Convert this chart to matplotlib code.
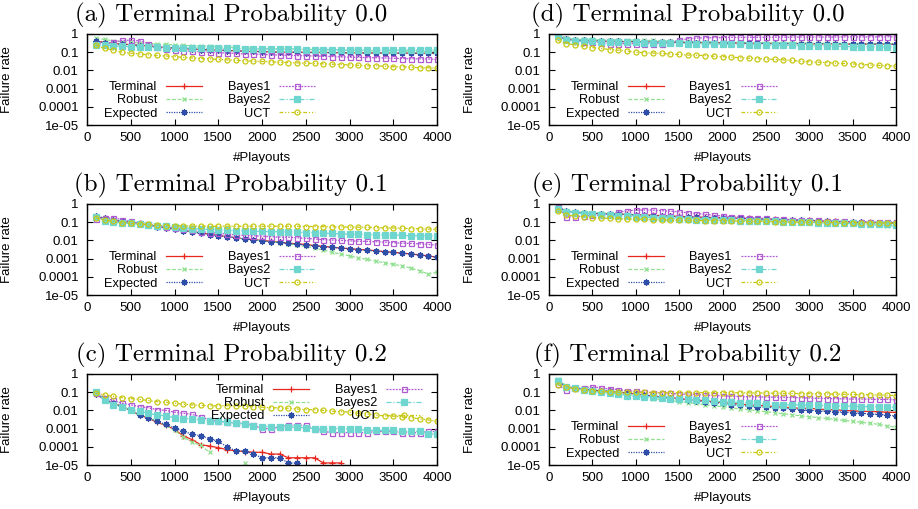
import numpy as np
import matplotlib
matplotlib.use('Agg')
import matplotlib.pyplot as plt

N = np.nan
playouts = list(range(100, 4100, 100))

series_names = ['Terminal', 'Robust', 'Expected', 'Bayes1', 'Bayes2', 'UCT']
titles = ['(a) Terminal Probability 0.0', '(b) Terminal Probability 0.1',
          '(c) Terminal Probability 0.2', '(d) Terminal Probability 0.0',
          '(e) Terminal Probability 0.1', '(f) Terminal Probability 0.2']
ytick_vals = [1, 0.1, 0.01, 0.001, 0.0001, 0.00001]
ytick_labels = ['1', '0.1', '0.01', '0.001', '0.0001', '1e-05']
xtick_vals = [0, 500, 1000, 1500, 2000, 2500, 3000, 3500, 4000]

# (a)
a_terminal = [0.4, 0.35, 0.3, 0.28, 0.26, 0.24, 0.22, 0.2, 0.18, 0.17,
              0.16, 0.15, 0.14, 0.135, 0.13, 0.125, 0.12, 0.115, 0.11, 0.11,
              0.105, 0.1, 0.1, 0.1, 0.1, 0.098, 0.097, 0.095, 0.094, 0.093,
              0.092, 0.092, 0.091, 0.09, 0.09, 0.09, 0.089, 0.088, 0.088, 0.088]
a_robust = [0.6, 0.5, 0.42, 0.38, 0.35, 0.32, 0.3, 0.28, 0.27, 0.25,
            0.24, 0.23, 0.22, 0.21, 0.2, 0.19, 0.18, 0.17, 0.17, 0.16,
            0.16, 0.15, 0.15, 0.15, 0.14, 0.14, 0.14, 0.13, 0.13, 0.13,
            0.13, 0.12, 0.12, 0.12, 0.12, 0.12, 0.11, 0.11, 0.11, 0.11]
a_expected = [0.4, 0.34, 0.3, 0.27, 0.25, 0.23, 0.21, 0.19, 0.18, 0.17,
              0.16, 0.15, 0.14, 0.13, 0.13, 0.12, 0.12, 0.11, 0.11, 0.105,
              0.1, 0.1, 0.1, 0.098, 0.096, 0.095, 0.094, 0.093, 0.092, 0.09,
              0.09, 0.09, 0.089, 0.088, 0.088, 0.087, 0.087, 0.086, 0.086, 0.085]
a_bayes1 = [0.3, 0.3, 0.35, 0.45, 0.45, 0.42, 0.3, 0.2, 0.15, 0.13,
            0.12, 0.11, 0.105, 0.1, 0.095, 0.09, 0.085, 0.08, 0.08, 0.075,
            0.072, 0.07, 0.068, 0.065, 0.063, 0.062, 0.06, 0.058, 0.055, 0.053,
            0.052, 0.05, 0.05, 0.048, 0.046, 0.045, 0.044, 0.043, 0.042, 0.04]
a_bayes2 = [0.25, 0.25, 0.22, 0.21, 0.2, 0.2, 0.19, 0.19, 0.18, 0.18,
            0.17, 0.17, 0.17, 0.16, 0.16, 0.16, 0.16, 0.15, 0.15, 0.15,
            0.15, 0.15, 0.15, 0.15, 0.14, 0.14, 0.14, 0.14, 0.13, 0.13,
            0.13, 0.13, 0.13, 0.13, 0.13, 0.13, 0.13, 0.13, 0.13, 0.13]
a_uct = [0.25, 0.16, 0.13, 0.1, 0.088, 0.08, 0.072, 0.066, 0.062, 0.057,
         0.052, 0.048, 0.045, 0.043, 0.04, 0.038, 0.036, 0.034, 0.032, 0.031,
         0.03, 0.028, 0.027, 0.026, 0.025, 0.024, 0.023, 0.022, 0.021, 0.02,
         0.019, 0.018, 0.018, 0.017, 0.016, 0.016, 0.015, 0.014, 0.014, 0.013]

# (b)
b_terminal = [0.2, 0.16, 0.13, 0.11, 0.1, 0.085, 0.07, 0.06, 0.05, 0.042,
              0.035, 0.03, 0.026, 0.022, 0.019, 0.016, 0.014, 0.012, 0.011, 0.01,
              0.009, 0.008, 0.007, 0.0065, 0.006, 0.0052, 0.0047, 0.0042, 0.0038, 0.0035,
              0.0032, 0.003, 0.0027, 0.0024, 0.0022, 0.002, 0.0018, 0.0016, 0.0014, 0.0012]
b_robust = [0.2, 0.16, 0.13, 0.11, 0.095, 0.08, 0.068, 0.058, 0.048, 0.04,
            0.034, 0.029, 0.025, 0.021, 0.018, 0.016, 0.014, 0.012, 0.011, 0.0095,
            0.0085, 0.0075, 0.0065, 0.0055, 0.0047, 0.0038, 0.003, 0.0022, 0.0018, 0.0014,
            0.0011, 0.0009, 0.00072, 0.0006, 0.00048, 0.0004, 0.0003, 0.00022, 0.00014, 0.00018]
b_expected = [0.22, 0.17, 0.13, 0.11, 0.095, 0.08, 0.07, 0.058, 0.048, 0.04,
              0.034, 0.029, 0.025, 0.021, 0.018, 0.016, 0.014, 0.012, 0.011, 0.0095,
              0.0085, 0.0077, 0.0068, 0.0062, 0.0056, 0.005, 0.0046, 0.0042, 0.0038, 0.0035,
              0.0031, 0.0029, 0.0026, 0.0024, 0.0022, 0.002, 0.0018, 0.0016, 0.0014, 0.0012]
b_bayes1 = [0.15, 0.17, 0.17, 0.14, 0.11, 0.09, 0.075, 0.065, 0.055, 0.048,
            0.04, 0.035, 0.03, 0.027, 0.025, 0.022, 0.02, 0.019, 0.018, 0.017,
            0.016, 0.015, 0.015, 0.014, 0.013, 0.012, 0.011, 0.0105, 0.01, 0.0095,
            0.009, 0.0088, 0.0085, 0.008, 0.0075, 0.007, 0.0068, 0.0065, 0.006, 0.0055]
b_bayes2 = [0.2, 0.12, 0.1, 0.09, 0.085, 0.08, 0.07, 0.065, 0.06, 0.055,
            0.05, 0.045, 0.042, 0.04, 0.038, 0.036, 0.034, 0.033, 0.032, 0.031,
            0.03, 0.03, 0.029, 0.028, 0.027, 0.026, 0.025, 0.024, 0.023, 0.022,
            0.022, 0.021, 0.02, 0.02, 0.02, 0.019, 0.018, 0.018, 0.018, 0.018]
b_uct = [0.17, 0.13, 0.11, 0.09, 0.085, 0.08, 0.075, 0.07, 0.065, 0.063,
         0.062, 0.062, 0.062, 0.06, 0.06, 0.06, 0.06, 0.06, 0.06, 0.06,
         0.06, 0.06, 0.06, 0.06, 0.058, 0.058, 0.057, 0.056, 0.055, 0.054,
         0.053, 0.052, 0.05, 0.049, 0.048, 0.046, 0.045, 0.043, 0.042, 0.04]

# (c)
c_terminal = [0.08, 0.04, 0.025, 0.017, 0.01, 0.0055, 0.0038, 0.0022, 0.0015, 0.0009,
              0.0004, 0.00025, 0.00013, 0.00011, 0.00009, 0.00007, 0.00006, 0.000055, 0.00005, 0.00005,
              0.00004, 0.00004, 0.000025, 0.000025, 0.000025, 0.000025, 0.000013, 0.000013, 0.000013, N,
              N, N, N, N, N, N, N, N, N, N]
c_robust = [0.1, 0.04, 0.025, 0.016, 0.01, 0.006, 0.004, 0.0025, 0.0015, 0.0008,
            0.00035, 0.00018, 0.00012, 0.00005, N, N, N, 0.000013, N, N,
            N, N, N, N, N, N, N, N, N, N,
            N, N, N, N, N, N, N, N, N, N]
c_expected = [0.08, 0.04, 0.025, 0.015, 0.01, 0.0055, 0.0038, 0.0025, 0.0017, 0.0011,
              0.0007, 0.0005, 0.0004, 0.00028, 0.0002, 0.0001, 0.00006, 0.00006, 0.00004, 0.000025,
              0.000025, 0.000025, 0.000013, 0.000013, N, N, N, N, N, N,
              N, N, N, N, N, N, N, N, N, N]
c_bayes1 = [0.09, 0.05, 0.035, 0.025, 0.02, 0.016, 0.014, 0.011, 0.01, 0.008,
            0.007, 0.006, 0.0045, 0.003, 0.0025, 0.0023, 0.002, 0.002, 0.0015, 0.001,
            0.001, 0.0012, 0.0016, 0.0015, 0.0015, 0.001, 0.0007, 0.0006, 0.0006, 0.0006,
            0.0006, 0.0006, 0.0007, 0.0007, 0.0007, 0.0006, 0.0006, 0.0006, 0.0007, 0.0007]
c_bayes2 = [0.1, 0.035, 0.02, 0.015, 0.011, 0.009, 0.007, 0.0055, 0.005, 0.004,
            0.0035, 0.0035, 0.003, 0.0025, 0.0025, 0.0023, 0.002, 0.0018, 0.0014, 0.0013,
            0.0013, 0.0012, 0.0012, 0.0012, 0.0011, 0.001, 0.001, 0.001, 0.001, 0.001,
            0.0009, 0.0008, 0.0008, 0.0008, 0.0008, 0.0007, 0.0007, 0.0007, 0.0005, 0.0005]
c_uct = [0.09, 0.07, 0.06, 0.05, 0.045, 0.04, 0.035, 0.03, 0.028, 0.025,
         0.022, 0.02, 0.019, 0.018, 0.018, 0.018, 0.017, 0.017, 0.016, 0.015,
         0.014, 0.014, 0.013, 0.012, 0.011, 0.011, 0.01, 0.009, 0.0085, 0.008,
         0.007, 0.0065, 0.0055, 0.005, 0.0048, 0.0045, 0.004, 0.0035, 0.003, 0.0025]

# (d)
d_terminal = [0.8, 0.5, 0.45, 0.43, 0.42, 0.4, 0.4, 0.39, 0.38, 0.38,
              0.37, 0.36, 0.36, 0.35, 0.35, 0.34, 0.34, 0.33, 0.33, 0.33,
              0.32, 0.32, 0.31, 0.31, 0.31, 0.3, 0.3, 0.3, 0.3, 0.29,
              0.29, 0.29, 0.29, 0.28, 0.28, 0.28, 0.28, 0.28, 0.27, 0.27]
d_robust = [0.9, 0.6, 0.52, 0.5, 0.5, 0.48, 0.47, 0.47, 0.46, 0.46,
            0.45, 0.44, 0.42, 0.41, 0.4, 0.39, 0.38, 0.37, 0.37, 0.36,
            0.35, 0.35, 0.34, 0.34, 0.33, 0.33, 0.33, 0.32, 0.32, 0.32,
            0.31, 0.31, 0.31, 0.3, 0.3, 0.3, 0.3, 0.3, 0.3, 0.29]
d_expected = [0.8, 0.5, 0.46, 0.44, 0.42, 0.41, 0.4, 0.39, 0.38, 0.38,
              0.37, 0.36, 0.35, 0.35, 0.35, 0.34, 0.34, 0.33, 0.33, 0.32,
              0.32, 0.32, 0.31, 0.31, 0.3, 0.3, 0.3, 0.3, 0.3, 0.29,
              0.29, 0.29, 0.29, 0.29, 0.28, 0.28, 0.28, 0.28, 0.28, 0.28]
d_bayes1 = [0.8, 0.5, 0.42, 0.38, 0.36, 0.33, 0.3, 0.3, 0.3, 0.3,
            0.3, 0.3, 0.3, 0.35, 0.45, 0.55, 0.6, 0.62, 0.63, 0.64,
            0.65, 0.65, 0.66, 0.66, 0.66, 0.67, 0.67, 0.67, 0.68, 0.68,
            0.68, 0.68, 0.68, 0.69, 0.69, 0.69, 0.69, 0.7, 0.7, 0.7]
d_bayes2 = [0.8, 0.45, 0.42, 0.4, 0.4, 0.38, 0.37, 0.36, 0.35, 0.35,
            0.34, 0.33, 0.33, 0.32, 0.31, 0.3, 0.3, 0.29, 0.28, 0.28,
            0.27, 0.27, 0.26, 0.26, 0.25, 0.25, 0.24, 0.24, 0.23, 0.23,
            0.22, 0.22, 0.21, 0.21, 0.2, 0.2, 0.2, 0.19, 0.19, 0.18]
d_uct = [0.45, 0.3, 0.25, 0.21, 0.18, 0.16, 0.14, 0.13, 0.115, 0.1,
         0.095, 0.09, 0.085, 0.08, 0.075, 0.07, 0.068, 0.065, 0.06, 0.057,
         0.053, 0.05, 0.047, 0.045, 0.042, 0.04, 0.038, 0.035, 0.032, 0.03,
         0.028, 0.027, 0.025, 0.024, 0.023, 0.021, 0.02, 0.019, 0.018, 0.017]

# (e)
e_terminal = [0.7, 0.4, 0.36, 0.33, 0.31, 0.3, 0.29, 0.28, 0.27, 0.26,
              0.25, 0.24, 0.23, 0.22, 0.21, 0.2, 0.19, 0.185, 0.18, 0.175,
              0.17, 0.165, 0.16, 0.155, 0.15, 0.145, 0.14, 0.135, 0.13, 0.125,
              0.12, 0.115, 0.11, 0.108, 0.105, 0.1, 0.098, 0.095, 0.092, 0.09]
e_robust = [0.5, 0.4, 0.37, 0.35, 0.34, 0.32, 0.3, 0.28, 0.26, 0.25,
            0.23, 0.21, 0.2, 0.19, 0.18, 0.17, 0.16, 0.155, 0.15, 0.14,
            0.135, 0.13, 0.125, 0.12, 0.12, 0.115, 0.11, 0.105, 0.1, 0.1,
            0.095, 0.09, 0.088, 0.085, 0.08, 0.077, 0.073, 0.07, 0.065, 0.06]
e_expected = [0.7, 0.42, 0.36, 0.32, 0.3, 0.29, 0.28, 0.27, 0.26, 0.25,
              0.24, 0.23, 0.22, 0.21, 0.2, 0.19, 0.185, 0.18, 0.175, 0.17,
              0.165, 0.16, 0.155, 0.15, 0.145, 0.14, 0.135, 0.13, 0.125, 0.12,
              0.115, 0.11, 0.108, 0.105, 0.1, 0.098, 0.095, 0.092, 0.09, 0.088]
e_bayes1 = [0.7, 0.2, 0.2, 0.22, 0.24, 0.25, 0.28, 0.35, 0.42, 0.46,
            0.47, 0.46, 0.43, 0.4, 0.37, 0.33, 0.3, 0.27, 0.24, 0.22,
            0.2, 0.19, 0.18, 0.17, 0.16, 0.15, 0.145, 0.14, 0.135, 0.13,
            0.125, 0.12, 0.115, 0.11, 0.108, 0.105, 0.103, 0.1, 0.1, 0.1]
e_bayes2 = [0.5, 0.38, 0.33, 0.3, 0.28, 0.26, 0.24, 0.22, 0.21, 0.2,
            0.19, 0.18, 0.17, 0.16, 0.155, 0.15, 0.14, 0.135, 0.13, 0.13,
            0.125, 0.12, 0.12, 0.115, 0.11, 0.11, 0.105, 0.1, 0.1, 0.097,
            0.095, 0.092, 0.09, 0.088, 0.085, 0.082, 0.08, 0.078, 0.075, 0.072]
e_uct = [0.4, 0.25, 0.22, 0.2, 0.18, 0.17, 0.16, 0.155, 0.15, 0.15,
         0.145, 0.14, 0.135, 0.13, 0.13, 0.125, 0.125, 0.12, 0.12, 0.12,
         0.115, 0.115, 0.11, 0.11, 0.11, 0.105, 0.105, 0.1, 0.1, 0.1,
         0.1, 0.098, 0.096, 0.095, 0.094, 0.093, 0.092, 0.091, 0.09, 0.09]

# (f)
f_terminal = [0.4, 0.2, 0.17, 0.15, 0.13, 0.12, 0.11, 0.1, 0.09, 0.08,
              0.07, 0.062, 0.055, 0.05, 0.045, 0.04, 0.037, 0.034, 0.03, 0.027,
              0.025, 0.022, 0.02, 0.019, 0.018, 0.016, 0.015, 0.014, 0.013, 0.013,
              0.012, 0.011, 0.011, 0.01, 0.0095, 0.009, 0.0088, 0.0085, 0.008, 0.0078]
f_robust = [0.5, 0.22, 0.16, 0.14, 0.12, 0.1, 0.09, 0.08, 0.07, 0.06,
            0.052, 0.045, 0.04, 0.035, 0.03, 0.027, 0.024, 0.02, 0.018, 0.016,
            0.014, 0.012, 0.011, 0.0095, 0.0085, 0.0075, 0.0065, 0.0058, 0.005, 0.0045,
            0.004, 0.0036, 0.0032, 0.0028, 0.0025, 0.0022, 0.002, 0.0017, 0.0014, 0.0012]
f_expected = [0.4, 0.2, 0.17, 0.15, 0.13, 0.12, 0.11, 0.1, 0.09, 0.08,
              0.07, 0.06, 0.053, 0.047, 0.042, 0.037, 0.033, 0.03, 0.027, 0.024,
              0.021, 0.019, 0.017, 0.016, 0.015, 0.014, 0.013, 0.012, 0.011, 0.01,
              0.0095, 0.009, 0.0085, 0.008, 0.0075, 0.007, 0.0065, 0.006, 0.0055, 0.005]
f_bayes1 = [0.3, 0.14, 0.16, 0.17, 0.2, 0.17, 0.15, 0.14, 0.12, 0.11,
            0.1, 0.095, 0.09, 0.085, 0.08, 0.077, 0.073, 0.07, 0.066, 0.063,
            0.06, 0.058, 0.056, 0.055, 0.054, 0.053, 0.052, 0.051, 0.05, 0.048,
            0.046, 0.045, 0.044, 0.043, 0.042, 0.042, 0.041, 0.04, 0.04, 0.038]
f_bayes2 = [0.4, 0.2, 0.16, 0.13, 0.11, 0.1, 0.09, 0.08, 0.065, 0.06,
            0.058, 0.055, 0.05, 0.045, 0.042, 0.04, 0.038, 0.035, 0.033, 0.03,
            0.028, 0.027, 0.025, 0.024, 0.022, 0.021, 0.02, 0.02, 0.02, 0.019,
            0.019, 0.018, 0.018, 0.017, 0.017, 0.016, 0.016, 0.016, 0.015, 0.015]
f_uct = [0.25, 0.2, 0.15, 0.13, 0.12, 0.11, 0.105, 0.1, 0.1, 0.098,
         0.097, 0.096, 0.095, 0.095, 0.095, 0.095, 0.095, 0.095, 0.095, 0.095,
         0.094, 0.093, 0.092, 0.091, 0.09, 0.088, 0.086, 0.085, 0.084, 0.083,
         0.082, 0.08, 0.078, 0.077, 0.075, 0.073, 0.072, 0.07, 0.068, 0.065]

panel_data = [
    [a_terminal, a_robust, a_expected, a_bayes1, a_bayes2, a_uct],
    [b_terminal, b_robust, b_expected, b_bayes1, b_bayes2, b_uct],
    [c_terminal, c_robust, c_expected, c_bayes1, c_bayes2, c_uct],
    [d_terminal, d_robust, d_expected, d_bayes1, d_bayes2, d_uct],
    [e_terminal, e_robust, e_expected, e_bayes1, e_bayes2, e_uct],
    [f_terminal, f_robust, f_expected, f_bayes1, f_bayes2, f_uct],
]

# gnuplot-like line styles: (color, dashes, marker, marker size, filled)
styles = [
    ('#e8281e', None, '+', 4.5, True),
    ('#90e090', (3, 1.5), 'x', 3.5, True),
    ('#2f4ea8', (1, 1), (8, 2, 0), 4.5, True),
    ('#b25ad2', (1.5, 1), 's', 3.6, False),
    ('#6fd6cf', (4, 1.5, 1, 1.5), 's', 4.8, True),
    ('#c8c814', (3, 1.5, 1, 1.5, 1, 1.5), 'o', 3.6, False),
]

tick_font = 'Liberation Sans'
fig = plt.figure(figsize=(9.18, 5.09), dpi=100)

col_left = [87 / 918, 549 / 918]
col_width = [350 / 918, 347 / 918]
row_top = [34, 204, 374]
title_x = [231 / 918, 688 / 918]

for i in range(6):
    col, row = i // 3, i % 3
    bottom = 1 - (row_top[row] + 91) / 509
    ax = fig.add_axes([col_left[col], bottom, col_width[col], 91 / 509])
    for name, vals, (color, dash, mk, ms, filled) in zip(series_names, panel_data[i], styles):
        kw = dict(color=color, lw=0.9, marker=mk, markersize=ms,
                  markeredgewidth=0.9, label=name)
        if not filled:
            kw['markerfacecolor'] = 'none'
        line, = ax.plot(playouts, vals, **kw)
        if dash is not None:
            line.set_dashes(dash)
    ax.set_yscale('log')
    ax.set_ylim(1e-5, 1)
    ax.set_xlim(0, 4000)
    ax.set_yticks(ytick_vals, ytick_labels)
    ax.set_xticks(xtick_vals)
    ax.minorticks_off()
    ax.tick_params(direction='in', top=True, right=True, length=4, width=0.8,
                   labelsize=9.5)
    ax.tick_params(axis='y', pad=6)
    ax.tick_params(axis='x', pad=5)
    for lab in ax.get_xticklabels() + ax.get_yticklabels():
        lab.set_fontfamily(tick_font)
    for sp in ax.spines.values():
        sp.set_linewidth(1.0)
    ax.set_xlabel('#Playouts', fontsize=9.5, fontfamily=tick_font)
    ax.set_ylabel('Failure rate', fontsize=9.5, fontfamily=tick_font)
    ax.xaxis.set_label_coords(0.5, -0.30)
    ax.yaxis.set_label_coords(-0.21, 0.5)

    if i == 2:
        leg_kw = dict(loc='upper right', bbox_to_anchor=(0.975, 0.96))
    else:
        leg_kw = dict(loc='lower left', bbox_to_anchor=(0.03, -0.01))
    ax.legend(ncol=2, markerfirst=False, frameon=False, borderpad=0,
              handlelength=2.8, handletextpad=0.7, columnspacing=2.0,
              labelspacing=0.08, prop={'family': tick_font, 'size': 9.2},
              **leg_kw)

    fig.text(title_x[col], 1 - (row_top[row] - 19) / 509, titles[i],
             ha='center', va='center', fontsize=18, fontfamily='cmr10')

fig.savefig('out.png', dpi=100)
